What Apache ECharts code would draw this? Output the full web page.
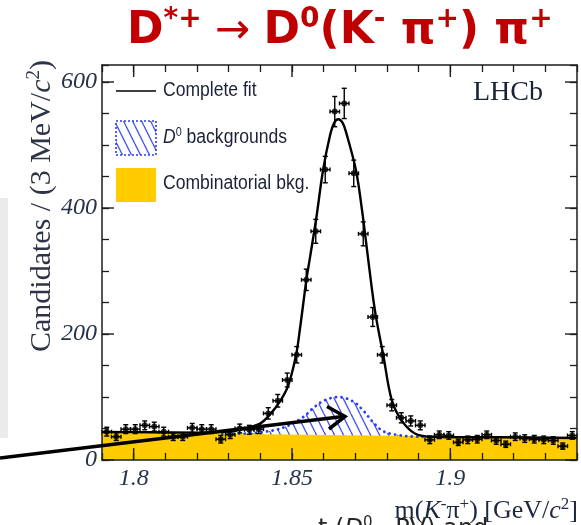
<!DOCTYPE html>
<html>
<head>
<meta charset="utf-8">
<script src="https://cdn.jsdelivr.net/npm/echarts@6/dist/echarts.min.js"></script>
<style>
  html, body { margin: 0; padding: 0; background: #fff; }
  #c { width: 581px; height: 525px; }
</style>
</head>
<body>
<div id="c"></div>
<script>
// m(K- pi+) bin centres [GeV/c^2], 3 MeV bins
const binCentres = [1.7915,1.7945,1.7975,1.8005,1.8035,1.8065,1.8095,1.8125,1.8155,1.8185,
                    1.8215,1.8245,1.8275,1.8305,1.8335,1.8365,1.8395,1.8425,1.8455,1.8485,
                    1.8515,1.8545,1.8575,1.8605,1.8635,1.8665,1.8695,1.8725,1.8755,1.8785,
                    1.8815,1.8845,1.8875,1.8905,1.8935,1.8965,1.8995,1.9025,1.9055,1.9085,
                    1.9115,1.9145,1.9175,1.9205,1.9235,1.9265,1.9295,1.9325,1.9355,1.9385];
// candidates per bin
const counts = [45,37,49,49,55,53,45,37,37,51,
                49,49,33,40,50,48,49,74,94,127,
                167,286,363,461,553,566,455,359,227,167,
                87,67,62,55,32,40,39,28,32,33,
                40,31,25,37,34,33,32,31,22,39];
// statistical uncertainty per bin
const errors = [7,6,7,7,7,7,7,6,6,7,
                7,7,6,6,7,7,7,9,10,11,
                13,17,19,21,24,24,21,19,15,13,
                9,8,8,7,6,6,6,5,6,6,
                6,6,5,6,6,6,6,6,5,6];
const halfBin = 0.0015;

// complete fit
const fitMass  = [1.790,1.805,1.820,1.830,1.8336,1.8399,1.8430,1.8462,1.8488,1.8513,1.8523,1.8536,1.8546,1.8557,1.8577,1.8598,1.8620,1.8633,1.8646,
                  1.8660,1.8672,1.8702,1.8721,1.8741,1.8757,1.8767,1.8788,1.8815,1.8846,1.8888,1.8936,1.915,1.940];
const fitTotal = [44.5,44,43.5,45,48,58,72,93,118,167,200,250,288,322,385,460,515,535,541,
                  535,518,460,397,317,254,222,167,95,63,42,37,36,35];
// D0 (peaking) backgrounds, stacked on the combinatorial component
const d0Mass = [1.828,1.835,1.840,1.845,1.849,1.8535,1.8566,1.860,1.8646,1.8693,1.8724,1.8756,1.8787,1.883,1.8895,1.900];
const d0Top  = [41.7,42,44,48,55,68,82,94,100,93,79,60,46,40,37,36.5];
// combinatorial background
const combMass = [1.790,1.940];
const combTop  = [44,35];

// axis ticks
const xMin = 1.79, xMax = 1.94, yMin = 0, yMax = 627;
const xTickValues = [1.8, 1.85, 1.9];
const xTickLabels = ['1.8', '1.85', '1.9'];
const yTickValues = [0, 200, 400, 600];
const yTickLabels = ['0', '200', '400', '600'];

const ink = '#1c1c1c';
const labelInk = '#263348';

function hatch() {
  const c = document.createElement('canvas');
  c.width = 9; c.height = 18;
  const g = c.getContext('2d');
  g.strokeStyle = '#4655ef';
  g.lineWidth = 1.3;
  for (const o of [-9, 0, 9]) {
    g.beginPath(); g.moveTo(o, 0); g.lineTo(o + 9, 18); g.stroke();
  }
  return c;
}
const hatchFill = { image: hatch(), repeat: 'repeat' };

function pairs(xs, ys) { return xs.map((x, i) => [x, ys[i]]); }

function findLabel(v, values, labels) {
  for (let i = 0; i < values.length; i++) if (Math.abs(v - values[i]) < 1e-6) return labels[i];
  return '';
}

const tickLabelStyle = {
  fontFamily: 'Liberation Serif', fontStyle: 'italic', fontSize: 24, color: labelInk
};

function xAxisCfg(pos, showLabel) {
  return {
    type: 'value', position: pos, min: xMin, max: xMax, interval: 0.01, z: 10,
    axisLine: { show: true, onZero: false, lineStyle: { color: ink, width: 1.5 } },
    axisTick: { show: true, inside: true, length: 7, lineStyle: { color: ink, width: 1.3 } },
    axisLabel: Object.assign({ show: showLabel, margin: 7,
      formatter: v => findLabel(v, xTickValues, xTickLabels) }, tickLabelStyle),
    splitLine: { show: false }
  };
}
function yAxisCfg(pos, showLabel) {
  return {
    type: 'value', position: pos, min: yMin, max: yMax, interval: 50, z: 10,
    axisLine: { show: true, onZero: false, lineStyle: { color: ink, width: 1.5 } },
    axisTick: { show: true, inside: true, length: 7, lineStyle: { color: ink, width: 1.3 } },
    axisLabel: Object.assign({ show: showLabel, margin: 5,
      formatter: v => findLabel(v, yTickValues, yTickLabels) }, tickLabelStyle),
    splitLine: { show: false }
  };
}

const legendFont = "'Liberation Sans Narrow', 'Liberation Sans', Arial, sans-serif";
const legendText = { fontFamily: legendFont, fontSize: 19.5, fill: '#1b2238' };

const chart = echarts.init(document.getElementById('c'), null, { renderer: 'canvas', width: 581, height: 525 });

chart.setOption({
  animation: false,
  backgroundColor: '#ffffff',
  grid: { left: 102, top: 65, width: 475, height: 395, containLabel: false },
  xAxis: [xAxisCfg('bottom', true), xAxisCfg('top', false)],
  yAxis: [yAxisCfg('left', true), yAxisCfg('right', false)],
  series: [
    { // D0 backgrounds: hatched fill
      type: 'line', data: pairs(d0Mass, d0Top), smooth: 0.35, symbol: 'none', z: 2,
      lineStyle: { width: 0, opacity: 0 },
      areaStyle: { color: hatchFill, opacity: 1 }
    },
    { // combinatorial background
      type: 'line', data: pairs(combMass, combTop), symbol: 'none', z: 3,
      lineStyle: { width: 0, opacity: 0 },
      areaStyle: { color: '#ffcc00', opacity: 1 }
    },
    { // D0 backgrounds: dotted outline
      type: 'line', data: pairs(d0Mass, d0Top), smooth: 0.35, symbol: 'none', z: 4,
      lineStyle: { color: '#2b3cf0', width: 2.8, type: [0.1, 5.5], cap: 'round' }
    },
    { // complete fit
      type: 'line', data: pairs(fitMass, fitTotal), smooth: 0.35, symbol: 'none', z: 5,
      lineStyle: { color: '#000', width: 2.4 }
    },
    { // error bars
      type: 'custom', z: 6, silent: true,
      data: binCentres.map((m, i) => [m, counts[i], errors[i]]),
      encode: { x: 0, y: 1 },
      renderItem: (params, api) => {
        const m = api.value(0), n = api.value(1), e = api.value(2);
        const top = api.coord([m, n + e]), bot = api.coord([m, n - e]);
        const l = api.coord([m - halfBin, n]), r = api.coord([m + halfBin, n]);
        const st = { stroke: '#000', lineWidth: 1.4 };
        const cw = 2.5;
        return { type: 'group', children: [
          { type: 'line', shape: { x1: top[0], y1: top[1], x2: bot[0], y2: bot[1] }, style: st },
          { type: 'line', shape: { x1: top[0] - cw, y1: top[1], x2: top[0] + cw, y2: top[1] }, style: st },
          { type: 'line', shape: { x1: bot[0] - cw, y1: bot[1], x2: bot[0] + cw, y2: bot[1] }, style: st },
          { type: 'line', shape: { x1: l[0], y1: l[1], x2: r[0], y2: r[1] }, style: st },
          { type: 'line', shape: { x1: l[0], y1: l[1] - 2, x2: l[0], y2: l[1] + 2 }, style: st },
          { type: 'line', shape: { x1: r[0], y1: r[1] - 2, x2: r[0], y2: r[1] + 2 }, style: st }
        ] };
      }
    },
    { // data points
      type: 'scatter', data: binCentres.map((m, i) => [m, counts[i]]), z: 7,
      symbol: 'circle', symbolSize: 6, itemStyle: { color: '#000' }, silent: true
    },
    { // long ticks at labelled x values
      type: 'custom', z: 11, silent: true, clip: false,
      data: xTickValues.map(v => [v, yMin]), encode: { x: 0, y: 1 },
      renderItem: (params, api) => {
        const v = api.value(0);
        const b = api.coord([v, yMin]), t = api.coord([v, yMax]);
        const st = { stroke: ink, lineWidth: 1.4 };
        return { type: 'group', children: [
          { type: 'line', shape: { x1: b[0], y1: b[1], x2: b[0], y2: b[1] - 12 }, style: st },
          { type: 'line', shape: { x1: t[0], y1: t[1], x2: t[0], y2: t[1] + 12 }, style: st }
        ] };
      }
    },
    { // long ticks at labelled y values
      type: 'custom', z: 11, silent: true, clip: false,
      data: yTickValues.map(v => [xMin, v]), encode: { x: 0, y: 1 },
      renderItem: (params, api) => {
        const v = api.value(1);
        const l = api.coord([xMin, v]), r = api.coord([xMax, v]);
        const st = { stroke: ink, lineWidth: 1.4 };
        return { type: 'group', children: [
          { type: 'line', shape: { x1: l[0], y1: l[1], x2: l[0] + 12, y2: l[1] }, style: st },
          { type: 'line', shape: { x1: r[0], y1: r[1], x2: r[0] - 12, y2: r[1] }, style: st }
        ] };
      }
    }
  ],
  graphic: [
    // side panel strip
    { type: 'rect', shape: { x: 0, y: 198, width: 8, height: 240 }, style: { fill: '#ebebeb' }, z: 0 },
    // decay title
    { type: 'text', x: 127, y: 32, z: 50,
      style: {
        text: '{b|D}{s|*+}{a| \u2192 }{b|D}{s|0}{b|(K}{s|-}{b| \u03c0}{s|+}{b|) \u03c0}{s|+}',
        align: 'left', verticalAlign: 'middle', textAlign: 'left', textVerticalAlign: 'middle',
        rich: {
          b: { fontFamily: 'DejaVu Sans', fontWeight: 'bold', fontSize: 44, fill: '#c00000', lineHeight: 48 },
          s: { fontFamily: 'DejaVu Sans', fontWeight: 'bold', fontSize: 28, fill: '#c00000', lineHeight: 30, verticalAlign: 'top' },
          a: { fontFamily: 'DejaVu Sans', fontSize: 42, fill: '#c00000', lineHeight: 52 }
        }
      } },
    // y axis title
    { type: 'text', x: 42, y: 206, rotation: Math.PI / 2, z: 50,
      style: {
        text: '{n|Candidates / (3 MeV/}{i|c}{s|2}{n|)}',
        align: 'center', verticalAlign: 'middle', textAlign: 'center', textVerticalAlign: 'middle',
        rich: {
          n: { fontFamily: 'Liberation Serif', fontSize: 30, fill: '#2d3446', lineHeight: 34 },
          i: { fontFamily: 'Liberation Serif', fontStyle: 'italic', fontSize: 30, fill: '#2d3446', lineHeight: 34 },
          s: { fontFamily: 'Liberation Serif', fontSize: 19, fill: '#2d3446', lineHeight: 22, verticalAlign: 'top' }
        }
      } },
    // x axis title
    { type: 'text', x: 578, y: 511, z: 50,
      style: {
        text: '{n|m(}{i|K}{s|-}{n|\u03c0}{s|+}{n|) [GeV/}{i|c}{s|2}{n|]}',
        align: 'right', verticalAlign: 'middle', textAlign: 'right', textVerticalAlign: 'middle',
        rich: {
          n: { fontFamily: 'Liberation Serif', fontSize: 26, fill: '#1e2740', lineHeight: 29 },
          i: { fontFamily: 'Liberation Serif', fontStyle: 'italic', fontSize: 26, fill: '#1e2740', lineHeight: 29 },
          s: { fontFamily: 'Liberation Serif', fontSize: 17, fill: '#1e2740', lineHeight: 19, verticalAlign: 'top' }
        }
      } },
    // experiment tag
    { type: 'text', x: 473, y: 93, z: 50,
      style: { text: 'LHCb', fontFamily: 'Liberation Serif', fontSize: 28, fill: '#1a2238',
               align: 'left', verticalAlign: 'middle', textAlign: 'left', textVerticalAlign: 'middle' } },
    // legend: complete fit
    { type: 'line', shape: { x1: 116, y1: 91, x2: 156, y2: 91 }, style: { stroke: '#000', lineWidth: 1.6 }, z: 50 },
    { type: 'text', x: 163, y: 91, z: 50, scaleX: 0.9,
      style: Object.assign({ text: 'Complete fit', align: 'left', verticalAlign: 'middle',
        textAlign: 'left', textVerticalAlign: 'middle' }, legendText) },
    // legend: D0 backgrounds
    { type: 'rect', shape: { x: 116, y: 121, width: 40, height: 34 }, z: 50,
      style: { fill: hatchFill, stroke: '#2b3cf0', lineWidth: 1.6, lineDash: [2, 2] } },
    { type: 'text', x: 163, y: 138, z: 50, scaleX: 0.9,
      style: { text: '{i|D}{s|0}{n| backgrounds}', align: 'left', verticalAlign: 'middle',
        textAlign: 'left', textVerticalAlign: 'middle',
        rich: {
          i: Object.assign({}, legendText, { fontStyle: 'italic', lineHeight: 22 }),
          s: Object.assign({}, legendText, { fontSize: 12, lineHeight: 16, verticalAlign: 'top' }),
          n: Object.assign({}, legendText, { lineHeight: 22 })
        } } },
    // legend: combinatorial background
    { type: 'rect', shape: { x: 116, y: 168, width: 40, height: 34 }, z: 50, style: { fill: '#ffcc00' } },
    { type: 'text', x: 163, y: 184, z: 50, scaleX: 0.9,
      style: Object.assign({ text: 'Combinatorial bkg.', align: 'left', verticalAlign: 'middle',
        textAlign: 'left', textVerticalAlign: 'middle' }, legendText) },
    // pointer arrow
    { type: 'polyline', shape: { points: [[0, 458], [343, 416.5]] }, z: 60,
      style: { stroke: '#000', lineWidth: 3.5, fill: null } },
    { type: 'polyline', shape: { points: [[327, 406.5], [345, 416.5], [329, 429]] }, z: 60,
      style: { stroke: '#000', lineWidth: 3.5, fill: null, lineJoin: 'miter' } },
    // slide text below
    { type: 'text', x: 318, y: 530, z: 1,
      style: { text: '{n|t (}{i|D}{s|0}{n| , PV) and}', align: 'left', verticalAlign: 'middle',
        textAlign: 'left', textVerticalAlign: 'middle',
        rich: {
          n: { fontFamily: 'DejaVu Sans', fontSize: 24, fill: '#262626', lineHeight: 28 },
          i: { fontFamily: 'DejaVu Sans', fontStyle: 'italic', fontSize: 24, fill: '#262626', lineHeight: 28 },
          s: { fontFamily: 'DejaVu Sans', fontSize: 15, fill: '#262626', lineHeight: 18, verticalAlign: 'top' }
        } } }
  ]
});
</script>
</body>
</html>
